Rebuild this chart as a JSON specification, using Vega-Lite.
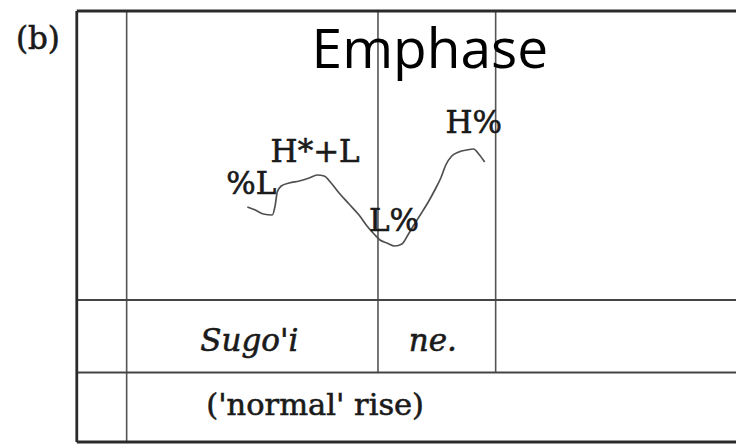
{
  "$schema": "https://vega.github.io/schema/vega-lite/v6.json",
  "width": 738,
  "height": 445,
  "autosize": {"type": "fit", "contains": "padding"},
  "padding": 0,
  "background": "white",
  "config": {"view": {"stroke": null}},
  "datasets": {
    "lines": [
      {"part": "frame", "x": 77, "x2": 77, "y": 11, "y2": 442},
      {"part": "frame", "x": 77, "x2": 738, "y": 11, "y2": 11},
      {"part": "frame", "x": 77, "x2": 738, "y": 442, "y2": 442},
      {"part": "row", "x": 77, "x2": 738, "y": 300, "y2": 300},
      {"part": "row", "x": 77, "x2": 738, "y": 372.5, "y2": 372.5},
      {"part": "column", "x": 127, "x2": 127, "y": 11, "y2": 442},
      {"part": "column", "x": 379, "x2": 379, "y": 11, "y2": 372.5},
      {"part": "column", "x": 497, "x2": 497, "y": 11, "y2": 372.5}
    ],
    "contour": [
      {"i": 1, "x": 248, "y": 207}, {"i": 2, "x": 256, "y": 210}, {"i": 3, "x": 264, "y": 214},
      {"i": 4, "x": 273, "y": 215}, {"i": 5, "x": 276, "y": 205}, {"i": 6, "x": 278, "y": 192},
      {"i": 7, "x": 282, "y": 186}, {"i": 8, "x": 290, "y": 183}, {"i": 9, "x": 300, "y": 181},
      {"i": 10, "x": 310, "y": 178}, {"i": 11, "x": 318, "y": 175}, {"i": 12, "x": 325, "y": 176},
      {"i": 13, "x": 332, "y": 183}, {"i": 14, "x": 340, "y": 193}, {"i": 15, "x": 350, "y": 204},
      {"i": 16, "x": 360, "y": 215}, {"i": 17, "x": 368, "y": 226}, {"i": 18, "x": 375, "y": 234},
      {"i": 19, "x": 381, "y": 240}, {"i": 20, "x": 388, "y": 243}, {"i": 21, "x": 396, "y": 246},
      {"i": 22, "x": 403, "y": 244}, {"i": 23, "x": 409, "y": 235}, {"i": 24, "x": 415, "y": 225},
      {"i": 25, "x": 422, "y": 214}, {"i": 26, "x": 430, "y": 201}, {"i": 27, "x": 436, "y": 190},
      {"i": 28, "x": 442, "y": 178}, {"i": 29, "x": 447, "y": 165}, {"i": 30, "x": 453, "y": 156},
      {"i": 31, "x": 460, "y": 152}, {"i": 32, "x": 468, "y": 150}, {"i": 33, "x": 475, "y": 149},
      {"i": 34, "x": 480, "y": 154}, {"i": 35, "x": 486, "y": 162}
    ],
    "tones": [
      {"label": "%L", "x": 252, "y": 194},
      {"label": "H*+L", "x": 316, "y": 162},
      {"label": "L%", "x": 395, "y": 231},
      {"label": "H%", "x": 475, "y": 133}
    ],
    "words": [
      {"label": "Sugo'i", "x": 250, "y": 351},
      {"label": "ne.", "x": 434, "y": 351}
    ],
    "notes": [
      {"label": "('normal' rise)", "x": 316, "y": 415}
    ],
    "title": [
      {"label": "Emphase", "x": 431, "y": 68}
    ],
    "panel": [
      {"label": "(b)", "x": 38, "y": 49}
    ]
  },
  "encoding": {
    "x": {"field": "x", "type": "quantitative", "scale": {"domain": [0, 738], "nice": false, "zero": false}, "axis": null},
    "y": {"field": "y", "type": "quantitative", "scale": {"domain": [0, 445], "nice": false, "zero": false, "reverse": true}, "axis": null}
  },
  "layer": [
    {
      "data": {"name": "lines"},
      "transform": [{"filter": "datum.part === 'column'"}],
      "mark": {"type": "rule", "stroke": "#555555", "strokeWidth": 1.6},
      "encoding": {"x2": {"field": "x2"}, "y2": {"field": "y2"}}
    },
    {
      "data": {"name": "lines"},
      "transform": [{"filter": "datum.part === 'row'"}],
      "mark": {"type": "rule", "stroke": "#444444", "strokeWidth": 2.2},
      "encoding": {"x2": {"field": "x2"}, "y2": {"field": "y2"}}
    },
    {
      "data": {"name": "lines"},
      "transform": [{"filter": "datum.part === 'frame'"}],
      "mark": {"type": "rule", "stroke": "#2a2a2a", "strokeWidth": 2.8},
      "encoding": {"x2": {"field": "x2"}, "y2": {"field": "y2"}}
    },
    {
      "data": {"name": "contour"},
      "mark": {"type": "line", "stroke": "#505050", "strokeWidth": 1.7, "interpolate": "monotone"},
      "encoding": {"order": {"field": "i", "type": "quantitative"}}
    },
    {
      "data": {"name": "tones"},
      "mark": {"type": "text", "font": "DejaVu Serif", "fontSize": 31, "align": "center", "baseline": "alphabetic", "color": "#1a1a1a", "stroke": "#1a1a1a", "strokeWidth": 0.6},
      "encoding": {"text": {"field": "label"}}
    },
    {
      "data": {"name": "words"},
      "mark": {"type": "text", "font": "DejaVu Serif", "fontStyle": "italic", "fontSize": 31, "align": "center", "baseline": "alphabetic", "color": "#1a1a1a", "stroke": "#1a1a1a", "strokeWidth": 0.6},
      "encoding": {"text": {"field": "label"}}
    },
    {
      "data": {"name": "notes"},
      "mark": {"type": "text", "font": "DejaVu Serif", "fontSize": 30.5, "align": "center", "baseline": "alphabetic", "color": "#1a1a1a", "stroke": "#1a1a1a", "strokeWidth": 0.6},
      "encoding": {"text": {"field": "label"}}
    },
    {
      "data": {"name": "title"},
      "mark": {"type": "text", "font": "Open Sans", "fontSize": 55, "align": "center", "baseline": "alphabetic", "color": "#000000"},
      "encoding": {"text": {"field": "label"}}
    },
    {
      "data": {"name": "panel"},
      "mark": {"type": "text", "font": "DejaVu Serif", "fontSize": 31, "align": "center", "baseline": "alphabetic", "color": "#1a1a1a", "stroke": "#1a1a1a", "strokeWidth": 0.6},
      "encoding": {"text": {"field": "label"}}
    }
  ]
}
